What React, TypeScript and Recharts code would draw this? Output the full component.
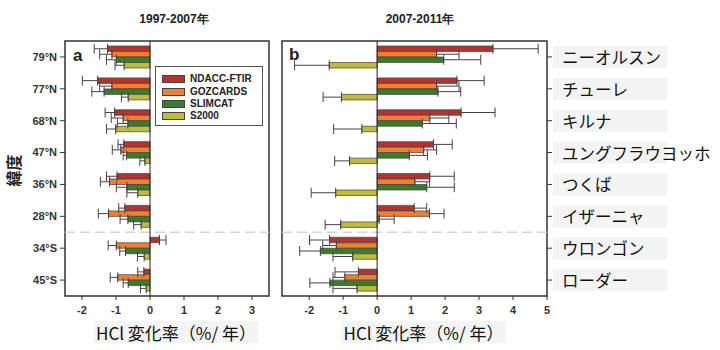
import React from 'react';
import { BarChart, Bar, XAxis, YAxis, ErrorBar, ReferenceLine, ReferenceArea, Legend } from 'recharts';

// ---------- data ----------
const latitudes = ['79°N', '77°N', '68°N', '47°N', '36°N', '28°N', '34°S', '45°S'];
const stations = ['ニーオルスン', 'チューレ', 'キルナ', 'ユングフラウヨッホ', 'つくば', 'イザーニャ', 'ウロンゴン', 'ローダー'];
const seriesKeys = ['ndacc', 'gozcards', 'slimcat', 's2000'];
const seriesNames = ['NDACC-FTIR', 'GOZCARDS', 'SLIMCAT', 'S2000'];
const seriesColors = ['#b8322a', '#f07f2e', '#3b7a2f', '#c0be30'];

// Panel a: 1997-2007
const ndaccA = [-1.25, -1.54, -1.04, -0.77, -0.97, -0.74, 0.28, -0.18];
const ndaccAErr = [0.39, 0.45, 0.28, 0.17, 0.31, 0.18, 0.19, 0.18];
const gozcardsA = [-1.12, -1.12, -0.79, -0.86, -1.19, -1.22, -0.99, -0.95];
const gozcardsAErr = [0.36, 0.36, 0.35, 0.25, 0.27, 0.3, 0.24, 0.22];
const slimcatA = [-0.99, -1.35, -0.65, -0.69, -0.68, -0.65, -0.72, -0.64];
const slimcatAErr = [0.29, 0.36, 0.31, 0.1, 0.31, 0.23, 0.17, 0.15];
const s2000A = [-0.76, -0.64, -1.01, -0.15, -0.36, -0.26, -0.17, -0.11];
const s2000AErr = [0.27, 0.2, 0.27, 0.15, 0.32, 0.22, 0.2, 0.17];

// Panel b: 2007-2011
const ndaccB = [3.41, 2.35, 2.47, 1.66, 1.55, 1.09, -1.4, -0.55];
const ndaccBErr = [1.33, 0.8, 1.0, 0.55, 0.72, 0.37, 0.59, 0.69];
const gozcardsB = [1.75, 1.75, 1.55, 1.37, 1.11, 1.54, -1.2, -0.95];
const gozcardsBErr = [0.66, 0.66, 0.56, 0.38, 0.43, 0.43, 0.4, 0.35];
const slimcatB = [1.96, 1.79, 1.33, 0.95, 1.46, 0.06, -1.67, -1.39];
const slimcatBErr = [1.09, 0.67, 1.0, 0.53, 0.81, 0.44, 0.61, 0.59];
const s2000B = [-1.41, -1.05, -0.45, -0.81, -1.22, -1.07, -0.72, -0.59];
const s2000BErr = [1.02, 0.54, 0.83, 0.44, 0.72, 0.46, 0.58, 0.71];

const xTicksA = [-2, -1, 0, 1, 2, 3];
const xTicksB = [-2, -1, 0, 1, 2, 3, 4, 5];
const domainA: [number, number] = [-2.5, 3.5];
const domainB: [number, number] = [-2.8, 5];

const titleA = '1997-2007年';
const titleB = '2007-2011年';
const xLabel = 'HCl 変化率（%/ 年）';
const yLabel = '緯度';

// ---------- helpers ----------
const oneSided = (v: number, e: number) => (v < 0 ? [e, 0] : [0, e]);

function buildRows(series: number[][], errs: number[][]) {
  return latitudes.map((lat, i) => {
    const row: any = { lat, station: stations[i] };
    seriesKeys.forEach((k, j) => {
      row[k] = series[j][i];
      row[k + 'Err'] = oneSided(series[j][i], errs[j][i]);
    });
    return row;
  });
}

const rowsA = buildRows([ndaccA, gozcardsA, slimcatA, s2000A], [ndaccAErr, gozcardsAErr, slimcatAErr, s2000AErr]);
const rowsB = buildRows([ndaccB, gozcardsB, slimcatB, s2000B], [ndaccBErr, gozcardsBErr, slimcatBErr, s2000BErr]);

const FONT = '"Liberation Sans", Arial, sans-serif';
const CJK = '"Noto Sans CJK JP", "Noto Sans", sans-serif';

const XLabelContent = (props: any) => {
  const vb = props.viewBox || {};
  const cx = vb.x + vb.width / 2 + 9;
  const cy = vb.y + 36;
  return (
    <g>
      <rect x={cx - 82} y={cy - 11} width={164} height={22} fill="#f4f4f4" />
      <text x={cx} y={cy} textAnchor="middle" dominantBaseline="central" fontSize={17} fontFamily={CJK} fill="#111">
        {xLabel}
      </text>
    </g>
  );
};

const YLabelContent = (props: any) => {
  const vb = props.viewBox || {};
  const x = vb.x + 13;
  const y = vb.y + vb.height / 2 + 2;
  return (
    <text x={x} y={y} transform={`rotate(-90, ${x}, ${y})`} textAnchor="middle" dominantBaseline="central"
      fontSize={16} fontWeight="bold" fontFamily={CJK} fill="#222">
      {yLabel}
    </text>
  );
};

const StationTick = (props: any) => {
  const { x, y, payload } = props;
  return (
    <g>
      <rect x={x - 1} y={y - 11} width={114} height={22} fill="#f4f4f4" />
      <text x={x + 8} y={y} dominantBaseline="central" fontSize={16.5} fontFamily={CJK} fill="#111">
        {payload.value}
      </text>
    </g>
  );
};

const LegendBox = () => (
  <div style={{ border: '1px solid #555', background: '#fff', width: 108, height: 60, boxSizing: 'border-box', padding: '6px 0 0 6px', fontFamily: FONT }}>
    {seriesNames.map((n, i) => (
      <div key={n} style={{ display: 'flex', alignItems: 'center', height: 12.4 }}>
        <span style={{ display: 'inline-block', width: 21, height: 6, background: seriesColors[i], border: '1px solid #444', marginRight: 5 }} />
        <span style={{ fontSize: 10, fontWeight: 'bold', color: '#222', lineHeight: '12px' }}>{n}</span>
      </div>
    ))}
  </div>
);

const tickStyle = { fontSize: 11, fontWeight: 'bold' as const, fill: '#333', fontFamily: FONT };

function renderBars() {
  return seriesKeys.map((k, j) => (
    <Bar key={k} dataKey={k} name={seriesNames[j]} fill={seriesColors[j]} stroke="#444" strokeWidth={0.7}
      barSize={5.5} isAnimationActive={false}>
      <ErrorBar dataKey={k + 'Err'} direction="x" width={5} stroke="#444" strokeWidth={1} />
    </Bar>
  ));
}

export default function App() {
  return (
    <div style={{ position: 'absolute', left: 0, top: 0, width: 720, height: 350, background: '#fff', fontFamily: FONT }}>
      <div style={{ position: 'absolute', left: 114, width: 120, top: 11, textAlign: 'center', fontSize: 12, fontWeight: 'bold', color: '#222' }}>
        {titleA}
      </div>
      <div style={{ position: 'absolute', left: 360, width: 120, top: 11, textAlign: 'center', fontSize: 12, fontWeight: 'bold', color: '#222' }}>
        {titleB}
      </div>

      <div style={{ position: 'absolute', left: 0, top: 0 }}>
        <BarChart width={280} height={350} data={rowsA} layout="vertical" barGap={0}
          margin={{ top: 41, right: 11, bottom: 24, left: 0 }}>
          <XAxis type="number" domain={domainA} ticks={xTicksA} allowDataOverflow height={30}
            axisLine={false} tickLine={{ stroke: '#333' }} tickSize={4} tickMargin={6} tick={tickStyle}
            label={<XLabelContent />} />
          <YAxis type="category" dataKey="lat" width={65} axisLine={false} tickLine={{ stroke: '#333' }}
            tickSize={5} tickMargin={3} tick={tickStyle} label={<YLabelContent />} />
          <ReferenceLine y="34°S" position="start" stroke="#d6d6d6" strokeWidth={1.5} strokeDasharray="10 5" />
          <ReferenceLine x={0} stroke="#222" strokeWidth={1} />
          {renderBars()}
          <ReferenceArea x1={domainA[0]} x2={domainA[1]} fill="none" stroke="#333" strokeWidth={1.5} ifOverflow="visible"
            label={{ value: 'a', position: 'insideTopLeft', offset: 8, style: { fontSize: 17, fontWeight: 'bold', fill: '#222', fontFamily: FONT } }} />
          <Legend layout="vertical" align="center" verticalAlign="middle" content={<LegendBox />}
            wrapperStyle={{ left: 155, top: 66, width: 108, height: 60 }} />
        </BarChart>
      </div>

      <div style={{ position: 'absolute', left: 270, top: 0 }}>
        <BarChart width={450} height={350} data={rowsB} layout="vertical" barGap={0}
          margin={{ top: 41, right: 0, bottom: 24, left: 12 }}>
          <XAxis type="number" domain={domainB} ticks={xTicksB} allowDataOverflow height={30}
            axisLine={false} tickLine={{ stroke: '#333' }} tickSize={4} tickMargin={6} tick={tickStyle}
            label={<XLabelContent />} />
          <YAxis type="category" dataKey="station" orientation="right" width={173} axisLine={false}
            tickLine={{ stroke: '#333' }} tickSize={5} tickMargin={2} tick={<StationTick />} />
          <ReferenceLine y="ウロンゴン" position="start" stroke="#d6d6d6" strokeWidth={1.5} strokeDasharray="10 5" />
          <ReferenceLine x={0} stroke="#222" strokeWidth={1} />
          {renderBars()}
          <ReferenceArea x1={domainB[0]} x2={domainB[1]} fill="none" stroke="#333" strokeWidth={1.5} ifOverflow="visible"
            label={{ value: 'b', position: 'insideTopLeft', offset: 7, style: { fontSize: 17, fontWeight: 'bold', fill: '#222', fontFamily: FONT } }} />
        </BarChart>
      </div>
    </div>
  );
}
